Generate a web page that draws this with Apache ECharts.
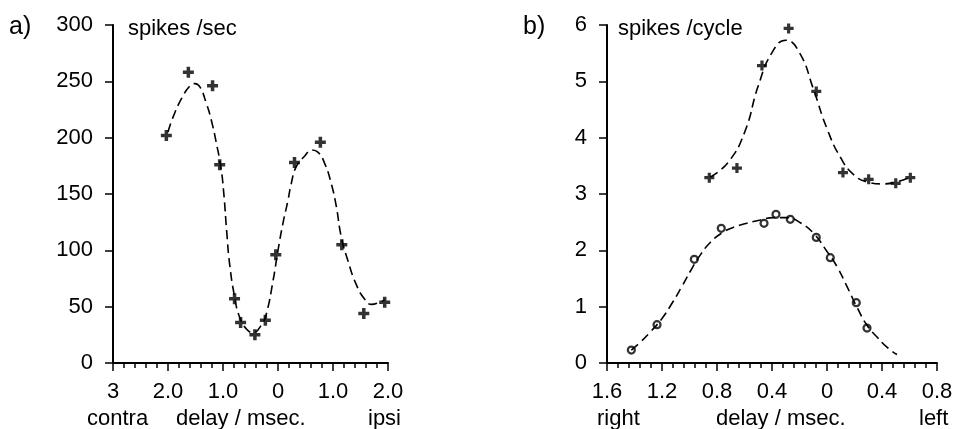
<!DOCTYPE html>
<html>
<head>
<meta charset="utf-8">
<script src="https://cdn.jsdelivr.net/npm/echarts@6/dist/echarts.min.js"></script>
<style>
  html, body { margin: 0; padding: 0; background: #fff; }
  #chart { width: 956px; height: 429px; }
</style>
</head>
<body>
<div id="chart"></div>
<script>
// panel a) spikes/sec vs delay (negative = contra)
var aPointX = [-2.03, -1.63, -1.19, -1.06, -0.79, -0.68, -0.42, -0.23, -0.04, 0.30, 0.77, 1.16, 1.56, 1.94];
var aPointY = [202, 258, 246, 176, 57, 36, 25, 38, 96, 178, 196, 105, 44, 54];
var aCurveX = [-2.00, -1.91, -1.75, -1.60, -1.51, -1.42, -1.30, -1.21, -1.12, -1.04, -0.99, -0.93, -0.88, -0.79, -0.70,
               -0.57, -0.45, -0.30, -0.21, -0.09, 0.00, 0.09, 0.18, 0.24, 0.33, 0.49, 0.61, 0.73, 0.85, 0.97,
               1.06, 1.15, 1.27, 1.42, 1.57, 1.70, 1.85, 1.94];
var aCurveY = [205, 218, 235, 246, 248, 245, 230, 215, 195, 174, 153, 115, 88, 59, 41,
               30, 27, 34, 44, 73, 100, 124, 144, 159, 174, 184, 189, 187, 177, 159,
               139, 112, 91, 70, 57, 52, 54, 56];

// panel b) spikes/cycle vs delay (negative = right)
var bCrossX = [-0.856, -0.655, -0.473, -0.279, -0.078, 0.116, 0.303, 0.50, 0.606];
var bCrossY = [3.29, 3.46, 5.28, 5.94, 4.82, 3.38, 3.26, 3.19, 3.29];
var bCircleX = [-1.423, -1.236, -0.965, -0.769, -0.458, -0.371, -0.267, -0.078, 0.024, 0.213, 0.291];
var bCircleY = [0.23, 0.68, 1.84, 2.39, 2.48, 2.64, 2.55, 2.23, 1.87, 1.07, 0.62];
var bUpperCurveX = [-0.85, -0.72, -0.60, -0.50, -0.40, -0.30, -0.20, -0.10, 0.00, 0.10, 0.20, 0.30, 0.40, 0.50, 0.606];
var bUpperCurveY = [3.30, 3.56, 4.09, 4.92, 5.51, 5.73, 5.51, 4.87, 4.16, 3.64, 3.33, 3.21, 3.18, 3.21, 3.30];
var bLowerCurveX = [-1.423, -1.358, -1.285, -1.20, -1.127, -1.055, -0.982, -0.921, -0.849, -0.764, -0.679, -0.582,
                    -0.485, -0.388, -0.291, -0.194, -0.097, 0.00, 0.073, 0.145, 0.218, 0.291, 0.364, 0.436, 0.509];
var bLowerCurveY = [0.23, 0.37, 0.55, 0.79, 1.06, 1.36, 1.68, 1.92, 2.14, 2.31, 2.41, 2.48,
                    2.54, 2.58, 2.58, 2.49, 2.30, 1.98, 1.71, 1.36, 0.99, 0.67, 0.46, 0.28, 0.15];

// tick labels
var aTickLabels = {'-3': '3', '-2': '2.0', '-1': '1.0', '0': '0', '1': '1.0', '2': '2.0'};
var bTickLabels = {'-1.6': '1.6', '-1.2': '1.2', '-0.8': '0.8', '-0.4': '0.4', '0': '0', '0.4': '0.4', '0.8': '0.8'};

function zip(xs, ys) {
    var out = [];
    for (var i = 0; i < xs.length; i++) {
        out.push([xs[i], ys[i]]);
    }
    return out;
}

var FONT = 'Liberation Sans, Arial, sans-serif';
var CROSS = 'path://M3.4,0H6.6V3.4H10V6.6H6.6V10H3.4V6.6H0V3.4H3.4Z';

function xAxisOf(idx, min, max, interval, labels) {
    return {
        type: 'value', gridIndex: idx, min: min, max: max, interval: interval,
        axisLine: { show: true, onZero: false, lineStyle: { color: '#000', width: 2 } },
        axisTick: { show: true, length: 8, lineStyle: { color: '#000', width: 1.5 } },
        minorTick: { show: true, splitNumber: 5, length: 5, lineStyle: { color: '#000', width: 1.5 } },
        splitLine: { show: false },
        minorSplitLine: { show: false },
        axisLabel: {
            margin: 18, color: '#000', fontSize: 22, fontFamily: FONT,
            showMinLabel: true, showMaxLabel: true, hideOverlap: false,
            formatter: function (v) {
                var k = String(Math.round(v * 10) / 10);
                return labels[k] !== undefined ? labels[k] : '';
            }
        }
    };
}

function yAxisOf(idx, min, max, interval) {
    return {
        type: 'value', gridIndex: idx, min: min, max: max, interval: interval,
        axisLine: { show: true, onZero: false, lineStyle: { color: '#000', width: 2 } },
        axisTick: { show: true, length: 8, lineStyle: { color: '#000', width: 1.5 } },
        splitLine: { show: false },
        axisLabel: {
            margin: 20, color: '#000', fontSize: 22, fontFamily: FONT,
            showMinLabel: true, showMaxLabel: true, padding: [5, 0, 0, 0]
        }
    };
}

function curve(idx, data) {
    return {
        type: 'line', xAxisIndex: idx, yAxisIndex: idx, data: data,
        smooth: 0.5, showSymbol: false, symbol: 'none',
        lineStyle: { color: '#000', width: 1.6, type: [9, 5] },
        z: 2
    };
}

function text(x, y, s, size) {
    return {
        type: 'text', left: x, top: y,
        style: { text: s, fill: '#000', font: (size || 22) + 'px ' + FONT }
    };
}

var myChart = echarts.init(document.getElementById('chart'));

option = {
    animation: false,
    grid: [
        { left: 113, top: 25, width: 275, height: 338 },
        { left: 607, top: 25, width: 330, height: 338 }
    ],
    xAxis: [
        xAxisOf(0, -3, 2, 1, aTickLabels),
        xAxisOf(1, -1.6, 0.8, 0.4, bTickLabels)
    ],
    yAxis: [
        yAxisOf(0, 0, 300, 50),
        yAxisOf(1, 0, 6, 1)
    ],
    series: [
        curve(0, zip(aCurveX, aCurveY)),
        {
            type: 'scatter', xAxisIndex: 0, yAxisIndex: 0, data: zip(aPointX, aPointY),
            symbol: CROSS, symbolSize: 11, itemStyle: { color: '#000' }, z: 3
        },
        curve(1, zip(bUpperCurveX, bUpperCurveY)),
        curve(1, zip(bLowerCurveX, bLowerCurveY)),
        {
            type: 'scatter', xAxisIndex: 1, yAxisIndex: 1, data: zip(bCrossX, bCrossY),
            symbol: CROSS, symbolSize: 10, itemStyle: { color: '#000' }, z: 3
        },
        {
            type: 'scatter', xAxisIndex: 1, yAxisIndex: 1, data: zip(bCircleX, bCircleY),
            symbol: 'circle', symbolSize: 7,
            itemStyle: { color: 'rgba(255,255,255,0)', borderColor: '#000', borderWidth: 2.2 }, z: 3
        }
    ],
    graphic: [
        text(9, 15, 'a)', 25),
        text(128, 18, 'spikes /sec'),
        text(87, 408, 'contra'),
        text(176, 408, 'delay / msec.'),
        text(368, 408, 'ipsi'),
        text(523, 15, 'b)', 25),
        text(618, 18, 'spikes /cycle'),
        text(597, 408, 'right'),
        text(716, 408, 'delay / msec.'),
        text(919, 408, 'left')
    ]
};
myChart.setOption(option);
</script>
</body>
</html>
